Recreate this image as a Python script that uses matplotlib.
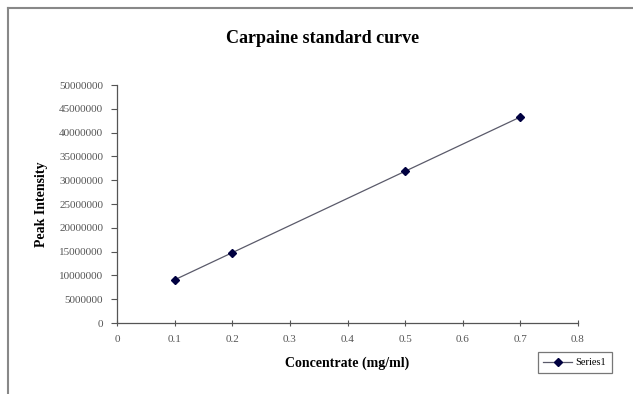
import matplotlib
matplotlib.use("Agg")
import matplotlib.pyplot as plt
from matplotlib.lines import Line2D

# data
conc = [0.1, 0.2, 0.5, 0.7]
intensity = [9100000, 14800000, 31900000, 43300000]
series_name = "Series1"
x_ticks = [0, 0.1, 0.2, 0.3, 0.4, 0.5, 0.6, 0.7, 0.8]
y_ticks = [0, 5000000, 10000000, 15000000, 20000000, 25000000,
           30000000, 35000000, 40000000, 45000000, 50000000]

plt.rcParams['font.family'] = ['Liberation Serif', 'DejaVu Serif']

fig = plt.figure(figsize=(6.33, 3.94), dpi=100)
ax = fig.add_axes([0.185, 0.180, 0.728, 0.604])

ax.plot(conc, intensity, color='#5a5a6a', linewidth=0.9,
        marker='D', markersize=4.5, markerfacecolor='#000040',
        markeredgecolor='#000040', label=series_name)

ax.set_xlim(0, 0.8)
ax.set_ylim(0, 50000000)
ax.set_xticks(x_ticks)
ax.set_xticklabels([("%g" % v) for v in x_ticks])
ax.set_yticks(y_ticks)
ax.set_yticklabels([str(v) for v in y_ticks])

for s in ['top', 'right']:
    ax.spines[s].set_visible(False)
for s in ['left', 'bottom']:
    ax.spines[s].set_color('#555555')
    ax.spines[s].set_linewidth(0.9)

ax.tick_params(axis='x', direction='inout', length=5, width=0.8,
               colors='#555555', labelcolor='#555555', labelsize=8, pad=6)
ax.tick_params(axis='y', direction='out', length=4, width=0.8,
               colors='#555555', labelcolor='#555555', labelsize=8, pad=6)

ax.set_xlabel("Concentrate (mg/ml)", fontsize=10, fontweight='bold', labelpad=9)
ax.set_ylabel("Peak Intensity", fontsize=10, fontweight='bold', labelpad=8)
fig.text(0.51, 0.902, "Carpaine standard curve", ha='center', va='center',
         fontsize=13, fontweight='bold')

leg = fig.legend(loc='lower right', bbox_to_anchor=(0.975, 0.04),
                 fontsize=7.5, frameon=True, fancybox=False, handlelength=2.8,
                 borderpad=0.55, handletextpad=0.3)
leg.get_frame().set_edgecolor('#555555')
leg.get_frame().set_linewidth(0.9)

# chart area frame (left and top edges visible)
fig.add_artist(Line2D([0.012, 0.012], [0.0, 0.98], color='#888888', linewidth=1.5))
fig.add_artist(Line2D([0.012, 1.0], [0.98, 0.98], color='#888888', linewidth=1.5))

fig.savefig('out.png', dpi=100)
